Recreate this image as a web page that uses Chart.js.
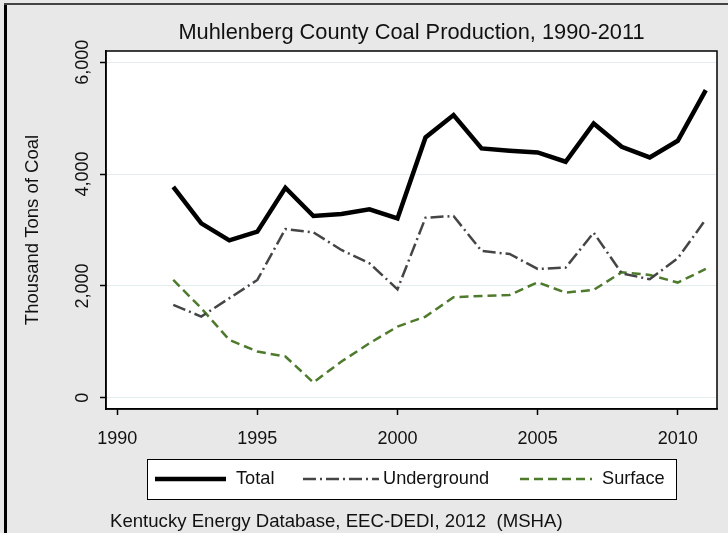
<!DOCTYPE html>
<html>
<head>
<meta charset="utf-8">
<script src="https://cdn.jsdelivr.net/npm/chart.js@4/dist/chart.umd.min.js"></script>
<style>
  html, body { margin: 0; padding: 0; background: #e8e8e8; }
  #wrap { width: 728px; height: 533px; }
</style>
</head>
<body>
<div id="wrap"><canvas id="coal" width="728" height="533"></canvas></div>
<script>
// Muhlenberg County coal production, thousand tons
const years = [1992, 1993, 1994, 1995, 1996, 1997, 1998, 1999, 2000, 2001,
               2002, 2003, 2004, 2005, 2006, 2007, 2008, 2009, 2010, 2011];
const total = [3773, 3119, 2815, 2970, 3756, 3250, 3286, 3369, 3208, 4655,
               5054, 4458, 4417, 4387, 4220, 4905, 4488, 4298, 4595, 5500];
const underground = [1661, 1452, 1780, 2107, 3018, 2958, 2643, 2405, 1940, 3220,
                     3250, 2625, 2571, 2304, 2327, 2952, 2226, 2119, 2494, 3190];
const surface = [2107, 1601, 1036, 827, 738, 274, 649, 976, 1274, 1452,
                 1798, 1821, 1839, 2065, 1881, 1929, 2244, 2196, 2060, 2304];

const xTicks = [1990, 1995, 2000, 2005, 2010];
const yTicks = [0, 2000, 4000, 6000];
const yTickLabels = ['0', '2,000', '4,000', '6,000'];

const FONT = '"Liberation Sans", Arial, sans-serif';

const series = [
  { label: 'Total', data: total, color: '#000000', width: 4.5, dash: [] },
  { label: 'Underground', data: underground, color: '#454545', width: 2.5, dash: [13, 4, 2, 4] },
  { label: 'Surface', data: surface, color: '#4e7a2c', width: 2.5, dash: [9, 5] }
];

// background, frame, plot box, rotated y labels, legend box and source note
const decor = {
  id: 'decor',
  beforeDraw(chart) {
    const { ctx, chartArea: a } = chart;
    ctx.save();
    ctx.fillStyle = '#e8e8e8';
    ctx.fillRect(0, 0, chart.width, chart.height);
    ctx.fillStyle = '#000';
    ctx.fillRect(4, 3, 3, chart.height - 3);
    ctx.fillStyle = '#444';
    ctx.fillRect(4, 3, chart.width - 4, 2);
    ctx.fillStyle = '#fff';
    ctx.fillRect(a.left, a.top, a.right - a.left, a.bottom - a.top);
    ctx.restore();
  },
  afterDraw(chart) {
    const { ctx, chartArea: a } = chart;
    const y = chart.scales.y;
    ctx.save();
    ctx.strokeStyle = '#000';
    ctx.lineWidth = 1.5;
    ctx.strokeRect(a.left, a.top, a.right - a.left, a.bottom - a.top);

    // title
    ctx.fillStyle = '#111';
    ctx.font = '21.8px ' + FONT;
    ctx.textAlign = 'center';
    ctx.textBaseline = 'middle';
    ctx.fillText('Muhlenberg County Coal Production, 1990-2011', (a.left + a.right) / 2, 33);

    // y tick labels, rotated
    ctx.font = '18px ' + FONT;
    yTicks.forEach((v, i) => {
      ctx.save();
      ctx.translate(83, y.getPixelForValue(v));
      ctx.rotate(-Math.PI / 2);
      ctx.fillText(yTickLabels[i], 0, 0);
      ctx.restore();
    });

    // y axis title
    ctx.save();
    ctx.translate(33, (a.top + a.bottom) / 2);
    ctx.rotate(-Math.PI / 2);
    ctx.font = '18.5px ' + FONT;
    ctx.fillText('Thousand Tons of Coal', 0, 0);
    ctx.restore();

    // legend
    const box = { x: 147, y: 459, w: 529, h: 40 };
    ctx.fillStyle = '#fff';
    ctx.fillRect(box.x, box.y, box.w, box.h);
    ctx.lineWidth = 1;
    ctx.strokeStyle = '#000';
    ctx.strokeRect(box.x + 0.5, box.y + 0.5, box.w, box.h);
    const items = [
      { x1: 155, x2: 226, tx: 236 },
      { x1: 303, x2: 379, tx: 383 },
      { x1: 520, x2: 592, tx: 602 }
    ];
    const ly = box.y + box.h / 2;
    ctx.font = '18.2px ' + FONT;
    items.forEach((it, i) => {
      const s = series[i];
      ctx.beginPath();
      ctx.setLineDash(s.dash);
      ctx.strokeStyle = s.color;
      ctx.lineWidth = s.width;
      ctx.moveTo(it.x1, ly);
      ctx.lineTo(it.x2, ly);
      ctx.stroke();
      ctx.setLineDash([]);
      ctx.fillStyle = '#111';
      ctx.textAlign = 'left';
      ctx.fillText(s.label, it.tx, ly);
    });

    // source note
    ctx.font = '18.6px ' + FONT;
    ctx.fillText('Kentucky Energy Database, EEC-DEDI, 2012  (MSHA)', 110, 522);
    ctx.restore();
  }
};

new Chart(document.getElementById('coal'), {
  type: 'line',
  data: {
    datasets: series.map(s => ({
      label: s.label,
      data: years.map((yr, i) => ({ x: yr, y: s.data[i] })),
      borderColor: s.color,
      backgroundColor: s.color,
      borderWidth: s.width,
      borderDash: s.dash,
      pointRadius: 0,
      tension: 0,
      fill: false
    }))
  },
  options: {
    responsive: false,
    animation: false,
    layout: { padding: { top: 51, right: 11, bottom: 79, left: 0 } },
    plugins: {
      legend: { display: false },
      title: { display: false },
      tooltip: { enabled: false }
    },
    scales: {
      x: {
        type: 'linear',
        min: 1989.6,
        max: 2011.4,
        afterBuildTicks: axis => { axis.ticks = xTicks.map(v => ({ value: v })); },
        afterFit: scale => { scale.height = 45; },
        grid: {
          drawOnChartArea: false,
          tickLength: 6,
          tickColor: '#000',
          tickWidth: 1.5
        },
        border: { color: '#000', width: 1.5 },
        ticks: {
          color: '#111',
          padding: 13,
          maxRotation: 0,
          font: { family: FONT, size: 18 },
          callback: v => String(v)
        }
      },
      y: {
        min: -200,
        max: 6200,
        afterBuildTicks: axis => { axis.ticks = yTicks.map(v => ({ value: v })); },
        afterFit: scale => { scale.width = 106; },
        grid: {
          color: '#e3ecef',
          lineWidth: 1,
          tickLength: 6,
          tickColor: '#000',
          tickWidth: 1.5
        },
        border: { color: '#000', width: 1.5 },
        ticks: { display: false }
      }
    }
  },
  plugins: [decor]
});
</script>
</body>
</html>
